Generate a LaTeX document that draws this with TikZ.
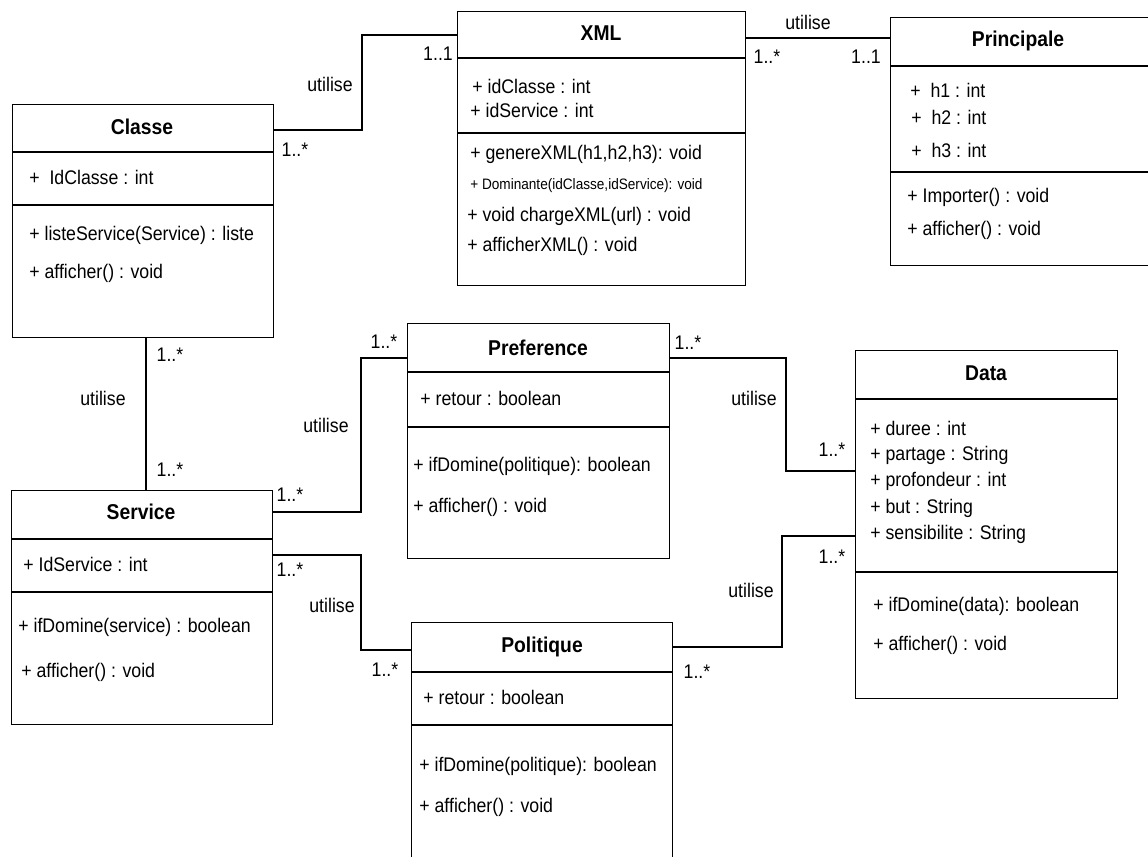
\documentclass[tikz,border=0pt]{standalone}
\usepackage{fontspec}
\setmainfont{Liberation Sans}[FakeStretch=0.9]
\tikzset{
  cls/.style 2 args={draw, line width=0.8pt, anchor=north west, inner sep=0pt,
    minimum width=#1*0.02cm, minimum height=#2*0.02cm},
  ttl/.style={inner sep=0pt, font=\fontsize{12.2}{14}\selectfont\bfseries},
  txt/.style={anchor=west, inner sep=0pt, font=\fontsize{11.2}{13}\selectfont},
  tiny/.style={anchor=west, inner sep=0pt, font=\fontsize{8.6}{10}\selectfont},
  lab/.style={inner sep=0pt, font=\fontsize{11.2}{13}\selectfont},
  link/.style={line width=0.8pt},
}
\begin{document}
\begin{tikzpicture}[x=0.02cm, y=-0.02cm]
\useasboundingbox (0,0) rectangle (1148,856);
% classes
\node[cls={261}{233}] (classe) at (12,104) {};
\node[cls={288}{274}] (xml) at (457,11) {};
\node[cls={262}{248}] (princ) at (890,17) {};
\node[cls={262}{235}] (pref) at (407,323) {};
\node[cls={261}{234}] (service) at (11,490) {};
\node[cls={261}{250}] (polit) at (411,622) {};
\node[cls={262}{348}] (data) at (855,350) {};
%
\draw[link] (classe.west |- 0,152) -- (classe.east |- 0,152);
\draw[link] (classe.west |- 0,205) -- (classe.east |- 0,205);
\draw[link] (xml.west |- 0,58) -- (xml.east |- 0,58);
\draw[link] (xml.west |- 0,133) -- (xml.east |- 0,133);
\draw[link] (princ.west |- 0,66) -- (princ.east |- 0,66);
\draw[link] (princ.west |- 0,172) -- (princ.east |- 0,172);
\draw[link] (pref.west |- 0,372) -- (pref.east |- 0,372);
\draw[link] (pref.west |- 0,427) -- (pref.east |- 0,427);
\draw[link] (service.west |- 0,539) -- (service.east |- 0,539);
\draw[link] (service.west |- 0,592) -- (service.east |- 0,592);
\draw[link] (polit.west |- 0,672) -- (polit.east |- 0,672);
\draw[link] (polit.west |- 0,725) -- (polit.east |- 0,725);
\draw[link] (data.west |- 0,399) -- (data.east |- 0,399);
\draw[link] (data.west |- 0,572) -- (data.east |- 0,572);
% Classe
\node[ttl] (classe-t) at (142,127) {Classe};
\node[txt] (classe-a1) at (29,177) {+\ \ IdClasse : int};
\node[txt] (classe-m1) at (29,235) {+ listeService(Service) : liste};
\node[txt] (classe-m2) at (29,273) {+ afficher() : void};
% XML
\node[ttl] (xml-t) at (601,33) {XML};
\node[txt] (xml-a1) at (472,86) {+ idClasse : int};
\node[txt] (xml-a2) at (470,110) {+ idService : int};
\node[txt] (xml-m1) at (470,154) {+ genereXML(h1,h2,h3): void};
\node[tiny] (xml-m2) at (470,186) {+ Dominante(idClasse,idService): void};
\node[txt] (xml-m3) at (467,216) {+ void chargeXML(url) : void};
\node[txt] (xml-m4) at (467,246) {+ afficherXML() : void};
% Principale
\node[ttl] (princ-t) at (1018,41) {Principale};
\node[txt] (princ-a1) at (910,90) {+\ \ h1 : int};
\node[txt] (princ-a2) at (911,117) {+\ \ h2 : int};
\node[txt] (princ-a3) at (911,150) {+\ \ h3 : int};
\node[txt] (princ-m1) at (907,197) {+ Importer() : void};
\node[txt] (princ-m2) at (907,230) {+ afficher() : void};
% Preference
\node[ttl] (pref-t) at (538,348) {Preference};
\node[txt] (pref-a1) at (420,398) {+ retour : boolean};
\node[txt] (pref-m1) at (413,466) {+ ifDomine(politique): boolean};
\node[txt] (pref-m2) at (413,507) {+ afficher() : void};
% Service
\node[ttl] (service-t) at (141,512) {Service};
\node[txt] (service-a1) at (23,564) {+ IdService : int};
\node[txt] (service-m1) at (18,627) {+ ifDomine(service) : boolean};
\node[txt] (service-m2) at (21,672) {+ afficher() : void};
% Politique
\node[ttl] (polit-t) at (542,647) {Politique};
\node[txt] (polit-a1) at (423,697) {+ retour : boolean};
\node[txt] (polit-m1) at (419,766) {+ ifDomine(politique): boolean};
\node[txt] (polit-m2) at (419,807) {+ afficher() : void};
% Data
\node[ttl] (data-t) at (986,373) {Data};
\node[txt] (data-a1) at (870,428) {+ duree : int};
\node[txt] (data-a2) at (870,455) {+ partage : String};
\node[txt] (data-a3) at (870,481) {+ profondeur : int};
\node[txt] (data-a4) at (870,508) {+ but : String};
\node[txt] (data-a5) at (870,534) {+ sensibilite : String};
\node[txt] (data-m1) at (873,606) {+ ifDomine(data): boolean};
\node[txt] (data-m2) at (873,645) {+ afficher() : void};
% associations
\draw[link] (classe.east |- 0,130) -| (362,35) -- (xml.west |- 0,35);
\draw[link] (xml.east |- 0,38) -- (princ.west |- 0,38);
\draw[link] (classe.south -| 146,0) -- (service.north -| 146,0);
\draw[link] (service.east |- 0,512) -| (361,358) -- (pref.west |- 0,358);
\draw[link] (service.east |- 0,555) -| (361,650) -- (polit.west |- 0,650);
\draw[link] (pref.east |- 0,358) -| (786,471) -- (data.west |- 0,471);
\draw[link] (polit.east |- 0,647) -| (782,536) -- (data.west |- 0,536);
%
\node[lab] (u1) at (330,84) {utilise};
\node[lab] (m1a) at (295,150) {1..*};
\node[lab] (m1b) at (438,54) {1..1};
\node[lab] (u2) at (808,22) {utilise};
\node[lab] (m2a) at (767,57) {1..*};
\node[lab] (m2b) at (866,57) {1..1};
\node[lab] (u3) at (103,398) {utilise};
\node[lab] (m3a) at (170,355) {1..*};
\node[lab] (m3b) at (170,470) {1..*};
\node[lab] (u4) at (326,425) {utilise};
\node[lab] (m4a) at (290,495) {1..*};
\node[lab] (m4b) at (384,342) {1..*};
\node[lab] (u5) at (332,605) {utilise};
\node[lab] (m5a) at (290,570) {1..*};
\node[lab] (m5b) at (385,670) {1..*};
\node[lab] (u6) at (754,398) {utilise};
\node[lab] (m6a) at (688,343) {1..*};
\node[lab] (m6b) at (832,450) {1..*};
\node[lab] (u7) at (751,590) {utilise};
\node[lab] (m7a) at (697,672) {1..*};
\node[lab] (m7b) at (832,557) {1..*};
\end{tikzpicture}
\end{document}
